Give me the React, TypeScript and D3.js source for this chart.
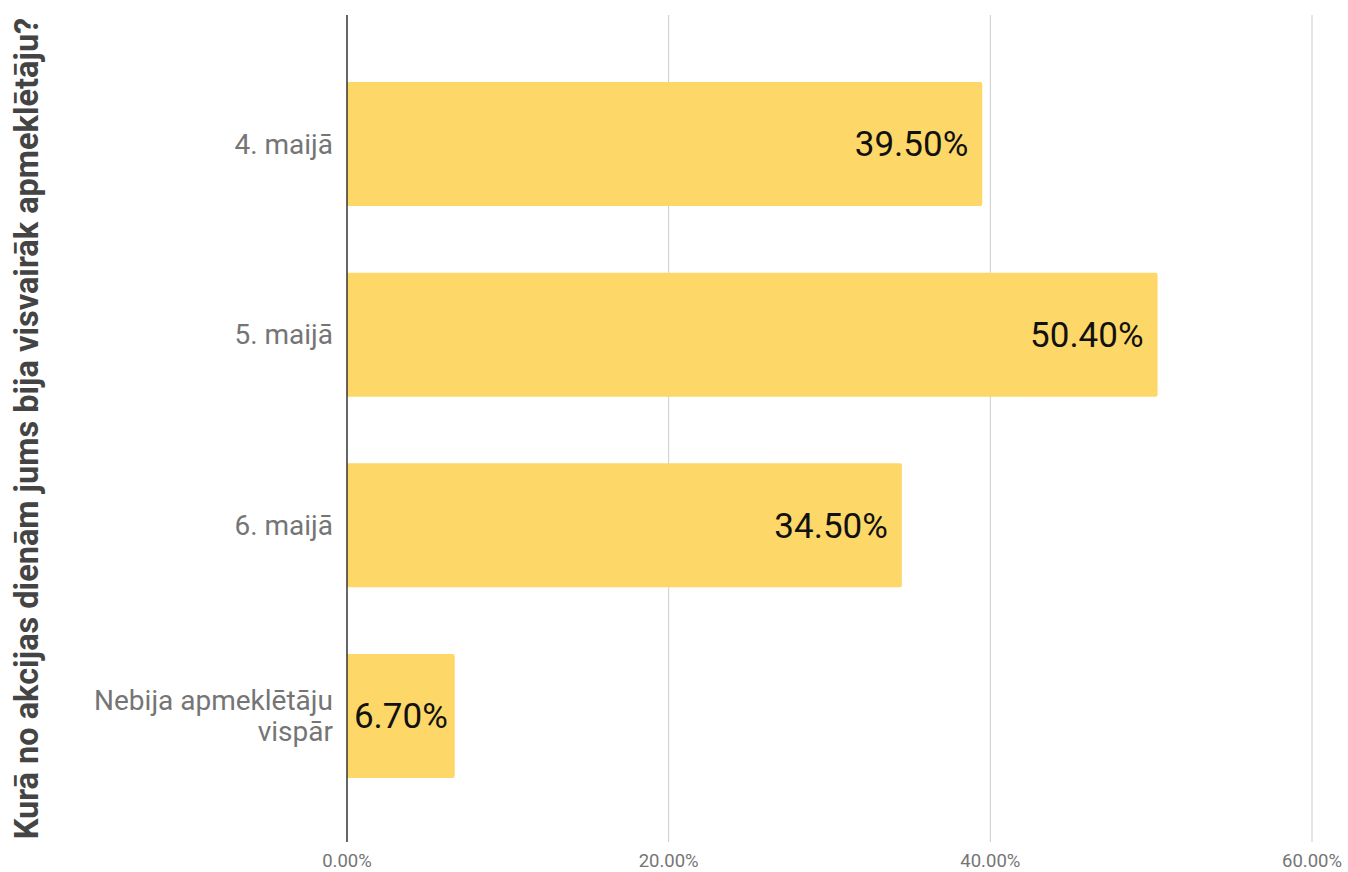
import React from "react";
import * as d3 from "d3";

const categories: string[][] = [["4. maijā"], ["5. maijā"], ["6. maijā"], ["Nebija apmeklētāju", "vispār"]];
const categoryKeys = ["4. maijā", "5. maijā", "6. maijā", "Nebija apmeklētāju vispār"];
const values = [39.5, 50.4, 34.5, 6.7];
const ticks = [0, 20, 40, 60];
const title = "Kurā no akcijas dienām jums bija visvairāk apmeklētāju?";

const W = 1348;
const H = 872;
const font = "Roboto, 'Noto Sans', sans-serif";

export default function App() {
  const x = d3.scaleLinear().domain([0, 60]).range([347, 1312]);
  const y = d3.scaleBand<string>().domain(categoryKeys).range([48.6, 811.4]).paddingInner(0.35).paddingOuter(0.175);
  const top = 15;
  const bottom = 842;
  const bw = y.bandwidth();
  const r = 2;
  return (
    <svg width={W} height={H} style={{ position: "absolute", left: 0, top: 0, background: "#fff" }} fontFamily={font}>
      {ticks.map((t) => (
        <g key={t}>
          {t !== 0 && <line x1={x(t)} x2={x(t)} y1={top} y2={bottom} stroke="#cccccc" strokeWidth={1} />}
          <text x={x(t)} y={860.5} dy="0.35em" textAnchor="middle" fontSize={18.5} fill="#757575">
            {t.toFixed(2) + "%"}
          </text>
        </g>
      ))}
      {values.map((v, i) => {
        const key = categoryKeys[i];
        const y0 = y(key)!;
        const x0 = x(0);
        const x1 = x(v);
        const w = x1 - x0;
        const path = `M${x0},${y0}H${x1 - r}Q${x1},${y0} ${x1},${y0 + r}V${y0 + bw - r}Q${x1},${y0 + bw} ${x1 - r},${y0 + bw}H${x0}Z`;
        const label = v.toFixed(2) + "%";
        const fits = w > 160;
        return (
          <g key={key}>
            <path d={path} fill="#fdd868" />
            <text
              x={fits ? x1 - 14 : (x0 + x1) / 2}
              y={y0 + bw / 2}
              dy="0.35em"
              textAnchor={fits ? "end" : "middle"}
              fontSize={35}
              fill="#111"
            >
              {label}
            </text>
            <text textAnchor="end" fontSize={28} fill="#757575">
              {categories[i].map((line, j) => (
                <tspan key={j} x={333} y={y0 + bw / 2 + (j - (categories[i].length - 1) / 2) * 31} dy="0.35em">
                  {line}
                </tspan>
              ))}
            </text>
          </g>
        );
      })}
      <line x1={x(0)} x2={x(0)} y1={top} y2={bottom} stroke="#333" strokeWidth={1.5} />
      <text
        transform={`translate(38,${(top + bottom) / 2}) rotate(-90)`}
        textAnchor="middle"
        fontSize={32.5}
        fontWeight="bold"
        fill="#444"
      >
        {title}
      </text>
    </svg>
  );
}
